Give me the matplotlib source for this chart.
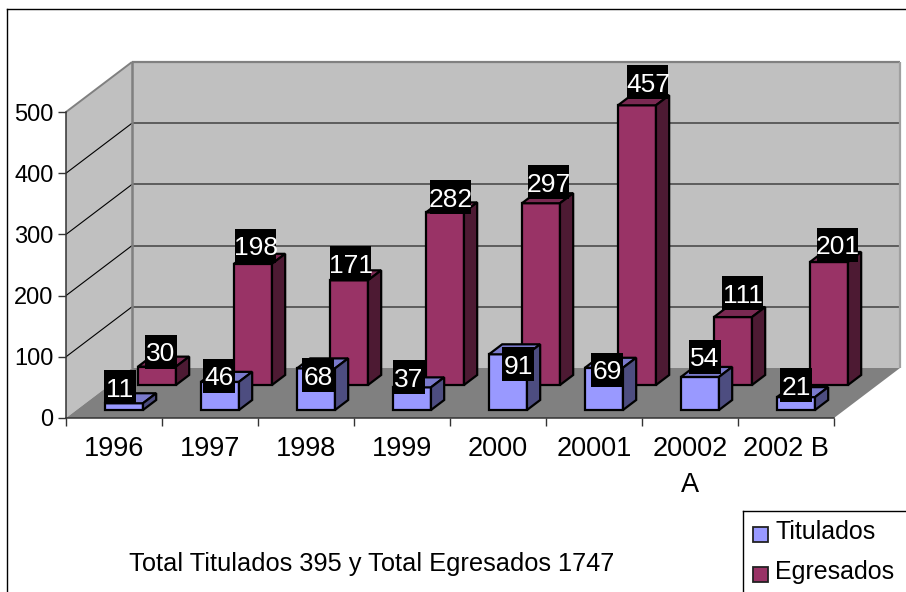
import matplotlib
matplotlib.use('Agg')
import matplotlib.pyplot as plt
from matplotlib.patches import Polygon, Rectangle
from matplotlib.transforms import IdentityTransform

plt.rcParams['font.family'] = ['Liberation Sans', 'DejaVu Sans']

years = ['1996', '1997', '1998', '1999', '2000', '20001', '20002\nA', '2002 B']
titulados = [11, 46, 68, 37, 91, 69, 54, 21]
egresados = [30, 198, 171, 282, 297, 457, 111, 201]
y_ticks = [0, 100, 200, 300, 400, 500]
note = 'Total Titulados 395 y Total Egresados 1747'

# where excel left each data label, pixels away from the top of the bar
tit_off_x = [-4, -1, 2, -3, 10, 3, 5, 0]
tit_off_y = [16, 6, -7, 10, -10, -2, 20, 12]
egr_off_x = [4, 3, 2, 6, 8, 11, 10, 9]
egr_off_y = [15, 18, 17, 15, 21, 23, 24, 17]

W, H = 906, 592
fig = plt.figure(figsize=(W / 100, H / 100), dpi=100)
ax = fig.add_axes([66 / W, (H - 418) / H, 768 / W, 306 / H])
ax.set_xlim(0, 8)
ax.set_ylim(0, 500)
ax.patch.set_visible(False)

# fake 3d: depth z goes from 0 (front) to 1 (back wall)
DX = 66 / 96
DY = 50 / 0.612


def pr(x, y, z=0):
    return (x + z * DX, y + z * DY)


def face(pts, color, ec='none', lw=0, zo=1):
    ax.add_patch(Polygon(pts, closed=True, fc=color, ec=ec, lw=lw, zorder=zo,
                         clip_on=False, joinstyle='miter'))


def line(a, b, color, lw, zo=1.5):
    ax.plot([a[0], b[0]], [a[1], b[1]], color=color, lw=lw, zorder=zo,
            clip_on=False, solid_capstyle='butt')


# walls and floor
face([pr(0, 0, 1), pr(8, 0, 1), pr(8, 500, 1), pr(0, 500, 1)], '#C0C0C0')
face([pr(0, 0, 0), pr(0, 0, 1), pr(0, 500, 1), pr(0, 500, 0)], '#C0C0C0')
for v in y_ticks[1:-1]:
    line(pr(0, v, 0), pr(0, v, 1), '#000000', 0.8)
    line(pr(0, v, 1), pr(8, v, 1), '#555555', 1.3)
line(pr(0, 500, 0), pr(0, 500, 1), '#808080', 1.4)
line(pr(0, 500, 1), pr(8, 500, 1), '#808080', 1.6)
line(pr(0, 0, 1), pr(0, 500, 1), '#808080', 1.8)
line(pr(8, 0, 1), pr(8, 500, 1), '#A0A0A0', 1.6)
face([pr(0, 0, 0), pr(8, 0, 0), pr(8, 0, 1), pr(0, 0, 1)], '#808080', zo=2)

BW = 38 / 96
BX = 0.296


def bar3d(x, v, z0, z1, front, top, side, zo):
    kw = dict(ec='black', lw=1.6, zo=zo)
    face([pr(x, 0, z0), pr(x + BW, 0, z0), pr(x + BW, v, z0), pr(x, v, z0)], front, **kw)
    face([pr(x, v, z0), pr(x + BW, v, z0), pr(x + BW, v, z1), pr(x, v, z1)], top, **kw)
    face([pr(x + BW, 0, z0), pr(x + BW, 0, z1), pr(x + BW, v, z1), pr(x + BW, v, z0)], side, **kw)


for i, v in enumerate(egresados):
    bar3d(BX + i, v, 0.66, 0.86, '#993366', '#7A2952', '#4D1A33', 3)
for i, v in enumerate(titulados):
    bar3d(BX + i, v, 0.16, 0.36, '#9999FF', '#7A7ACC', '#4D4D80', 4)

# axes
for s in ['top', 'right']:
    ax.spines[s].set_visible(False)
for s in ['left', 'bottom']:
    ax.spines[s].set_color('#333333')
    ax.spines[s].set_linewidth(1.1)
ax.set_yticks(y_ticks)
ax.set_xticks(range(9))
ax.set_xticklabels([])
ax.set_xticks([i + 0.5 for i in range(8)], minor=True)
ax.set_xticklabels(years, minor=True, linespacing=1.5)
ax.tick_params(axis='y', labelsize=17, length=6, width=1, pad=3, color='#333333')
ax.tick_params(axis='x', which='major', length=6, width=1, color='#333333')
ax.tick_params(axis='x', which='minor', labelsize=19.5, length=0, pad=13)

# data labels, black boxes with white numbers
px = IdentityTransform()
fig.canvas.draw()


def data_label(x, v, z, ox, oy):
    cx, cy = ax.transData.transform(pr(x + BW / 2, v, z))
    cx += ox
    cy += oy
    w = 14 + 9 * len(str(v))
    ax.add_patch(Rectangle((cx - w / 2, cy - 17), w, 34, transform=px, fc='black',
                           ec='none', zorder=10, clip_on=False))
    ax.text(cx, cy, str(v), transform=px, color='white', fontsize=19, ha='center',
            va='center_baseline', zorder=11, clip_on=False)


for i, v in enumerate(egresados):
    data_label(BX + i, v, 0.66, egr_off_x[i], egr_off_y[i])
for i, v in enumerate(titulados):
    data_label(BX + i, v, 0.16, tit_off_x[i], tit_off_y[i])

# chart border, legend and the note are placed in pixels of the picture
fig.add_artist(plt.Line2D([7 / W, 7 / W], [0, (H - 9) / H], color='black', lw=1))
fig.add_artist(plt.Line2D([7 / W, 1], [(H - 9) / H, (H - 9) / H], color='black', lw=1))
fig.add_artist(plt.Line2D([743 / W, 743 / W], [0, (H - 511) / H], color='black', lw=1))
fig.add_artist(plt.Line2D([743 / W, 1], [(H - 511) / H, (H - 511) / H], color='black', lw=1))

fig.add_artist(Rectangle((753 / W, (H - 542) / H), 15 / W, 15 / H, fc='#9999FF', ec='#222222',
                         lw=1.3, transform=fig.transFigure))
fig.add_artist(Rectangle((753 / W, (H - 582) / H), 15 / W, 15 / H, fc='#993366', ec='#222222',
                         lw=1.3, transform=fig.transFigure))
fig.text(775 / W, (H - 532) / H, 'Titulados', fontsize=18, va='center')
fig.text(775 / W, (H - 572) / H, 'Egresados', fontsize=18, va='center')
fig.text(372 / W, (H - 564) / H, note, fontsize=18.3, ha='center', va='center')

fig.savefig('out.png', dpi=100)
